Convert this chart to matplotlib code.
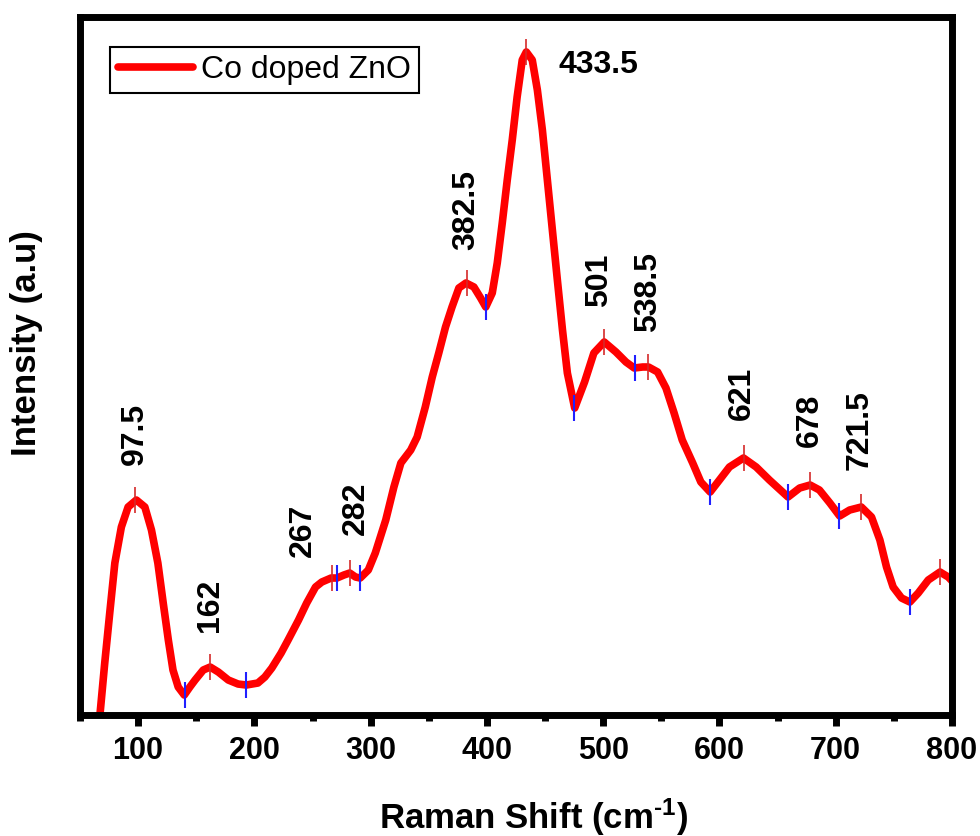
import numpy as np
import matplotlib
matplotlib.use("Agg")
import matplotlib.pyplot as plt
from matplotlib.ticker import MultipleLocator

plt.rcParams['font.family'] = ['Liberation Sans', 'DejaVu Sans']
plt.rcParams['mathtext.fontset'] = 'custom'
plt.rcParams['mathtext.rm'] = 'Liberation Sans'
plt.rcParams['mathtext.bf'] = 'Liberation Sans:bold'
plt.rcParams['mathtext.default'] = 'bf'

# Raman spectrum (intensity in arbitrary units)
shift = [64, 67, 71.3, 75.6, 80, 85.6, 91.4, 98.5, 105.8, 111.5, 117, 121.6, 126, 130,
         134.5, 139.7, 144.5, 149, 156, 162, 169, 177.6, 186, 193, 203, 209, 215, 223,
         229, 238, 245, 252.6, 258, 266, 271, 277, 282, 287, 291, 298, 304, 313, 320,
         326, 334.5, 340, 347, 353, 358.6, 364.4, 370, 375.9, 382, 388.8, 394.6, 399,
         404.6, 408.9, 413.2, 417.5, 421.8, 426, 430.4, 433.9, 439, 443.4, 447.7, 452,
         456.3, 460.6, 465, 469.2, 475.5, 484, 492, 500.9, 511, 519.6, 526.7, 534, 539,
         546.8, 554, 561, 568, 577, 584, 592, 600, 608.6, 620.7, 631.6, 643, 659, 669,
         678, 686, 695, 703.4, 712, 722, 730.8, 738, 743.7, 749.4, 756.6, 763.8, 771,
         779.6, 789.7, 796.8, 805]
intensity = [-40, -2, 52, 102, 152, 188, 208, 215, 208, 185, 152, 112, 75, 45,
             28, 20, 28, 35, 45, 48, 43, 35, 31, 30, 32, 38, 47, 62,
             75, 95, 112, 128, 133, 137, 137, 140, 142, 138, 137, 145, 162, 195, 228,
             252, 265, 278, 308, 338, 362, 388, 408, 427, 432, 428, 417, 408,
             422, 452, 492, 535, 575, 618, 655, 663, 655, 625, 585, 535,
             485, 435, 385, 342, 307, 333, 362, 373, 363, 353, 347, 348, 348,
             343, 327, 302, 275, 252, 233, 223, 235, 248, 257, 248, 235, 218, 227,
             230, 225, 212, 199, 205, 208, 198, 175, 148, 128, 117, 113, 122,
             135, 143, 138, 128]

# fitted peak centres (red) and valley positions (blue)
peak_pos = [97.5, 162, 267, 282, 382.5, 433.5, 501, 538.5, 621, 678, 721.5, 790]
peak_int = [215, 48, 137, 142, 432, 663, 373, 348, 257, 230, 208, 143]
valley_pos = [140, 193, 271, 291, 399, 475, 527, 592, 659, 703, 764]
valley_int = [20, 30, 137, 137, 408, 307, 347, 223, 218, 199, 113]

label_text = ['97.5', '162', '267', '282', '382.5', '501', '538.5', '621', '678', '721.5']
label_x = [97.5, 162, 242, 287, 382, 496.5, 539, 619, 677.6, 720.7]
label_y = [250, 83, 158, 180, 465, 408, 383, 295, 268, 245]

fig = plt.figure(figsize=(9.8, 8.36), dpi=100)
ax = fig.add_axes([0.0816, 0.1447, 0.8898, 0.835])

ax.plot(shift, intensity, color='#ff0000', lw=5.5, solid_joinstyle='round',
        solid_capstyle='round', label='Co doped ZnO', zorder=2)
ax.plot(peak_pos, peak_int, ls='none', marker='|', ms=19, mew=1.2,
        color='#d42a2a', zorder=3)
ax.plot(valley_pos, valley_int, ls='none', marker='|', ms=19, mew=1.5,
        color='#2020ff', zorder=3)

for t, x, y in zip(label_text, label_x, label_y):
    ax.text(x, y, t, rotation=90, ha='center', va='bottom',
            fontsize=23, fontweight='bold')
ax.text(462, 650, '433.5', ha='left', va='center', fontsize=23, fontweight='bold')

ax.set_xlim(50, 800)
ax.set_ylim(0, 698)
ax.xaxis.set_major_locator(MultipleLocator(100))
ax.xaxis.set_minor_locator(MultipleLocator(50))
ax.tick_params(axis='x', which='major', direction='out', length=8, width=5,
               labelsize=22, pad=7)
ax.tick_params(axis='x', which='minor', direction='out', length=4, width=5)
ax.set_yticks([])
for lab in ax.get_xticklabels():
    lab.set_fontweight('bold')
for s in ax.spines.values():
    s.set_linewidth(5)

ax.set_xlabel('Raman Shift (cm$^{\u20101}$)', fontsize=25, fontweight='bold', va='top')
ax.xaxis.set_label_coords(0.52, -0.116)
ax.set_ylabel('Intensity (a.u)', fontsize=25, fontweight='bold')
ax.yaxis.set_label_coords(-0.042, 0.533)

leg = ax.legend(loc='upper left', bbox_to_anchor=(0.034, 0.957), borderaxespad=0,
                fontsize=23, handlelength=2.35, handletextpad=0.25, borderpad=0.25,
                fancybox=False, framealpha=1, edgecolor='black')
leg.get_frame().set_linewidth(1.5)

fig.savefig('out.png', dpi=100)
